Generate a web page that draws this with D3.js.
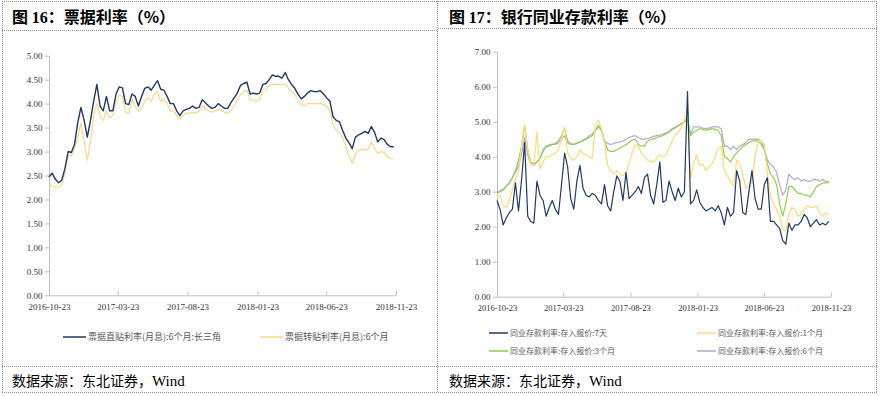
<!DOCTYPE html>
<html>
<head>
<meta charset="utf-8">
<script src="https://cdn.jsdelivr.net/npm/d3@7"></script>
<style>
  body { margin: 0; background: #fff; }
</style>
</head>
<body>
<div id="chart"></div>
<script>
var width = 880;
var height = 396;
var cjk = "'Noto Sans CJK SC', sans-serif";
var serif = "'Liberation Serif', 'Times New Roman', serif";

// weekly observations, first one on 2016-10-23
var startDate = '2016-10-23';
var xTicks = ['2016-10-23', '2017-03-23', '2017-08-23', '2018-01-23', '2018-06-23', '2018-11-23'];
var leftYTicks = [0, 0.5, 1, 1.5, 2, 2.5, 3, 3.5, 4, 4.5, 5];
var rightYTicks = [0, 1, 2, 3, 4, 5, 6, 7];

// 票据利率
var billDirect = [2.47,2.55,2.42,2.35,2.4,2.65,3.0,2.98,3.15,3.6,3.92,3.65,3.3,3.65,4.05,4.4,3.95,3.85,4.15,3.85,3.85,4.2,4.35,4.33,4.0,3.98,4.2,4.15,3.95,4.15,4.32,4.35,4.28,4.38,4.48,4.3,4.28,4.15,4.0,4.0,3.85,3.75,3.85,3.88,3.9,3.95,3.9,3.92,4.08,4.02,3.95,3.9,3.92,4.0,
  3.95,3.9,3.9,4.02,4.12,4.22,4.38,4.42,4.45,4.2,4.22,4.2,4.22,4.4,4.42,4.5,4.6,4.57,4.57,4.53,4.65,4.5,4.4,4.32,4.2,4.1,4.15,4.22,4.27,4.25,4.25,4.27,4.2,4.12,4.05,3.72,3.65,3.62,3.44,3.28,3.18,3.06,3.3,3.35,3.38,3.42,3.38,3.52,3.4,3.2,3.28,3.25,3.15,3.1,3.1];
var billRedisc = [2.32,2.28,2.25,2.25,2.3,2.55,2.9,2.92,3.05,3.3,3.6,3.2,2.82,3.2,3.75,4.0,3.75,3.65,3.85,3.7,3.75,4.05,4.18,4.15,3.82,3.8,4.1,3.95,3.85,3.9,4.05,4.12,4.05,4.2,4.25,4.05,4.1,4.0,3.85,3.85,3.75,3.68,3.75,3.8,3.8,3.82,3.8,3.85,3.95,3.9,3.85,3.82,3.85,3.88,
  3.85,3.82,3.8,3.85,3.95,4.08,4.18,4.25,4.28,4.08,4.08,4.05,4.08,4.28,4.3,4.38,4.4,4.4,4.4,4.4,4.42,4.32,4.25,4.2,4.08,3.98,3.95,4.0,4.0,4.0,4.0,4.0,3.98,3.95,3.85,3.55,3.45,3.4,3.3,3.1,2.9,2.75,2.95,3.02,3.05,3.02,3.05,3.2,3.08,2.95,3.0,2.98,2.9,2.85,2.85];

// 同业存款利率
var dep7d = [2.75,2.5,2.05,2.25,2.4,2.5,3.25,2.45,3.35,4.4,2.3,2.15,2.1,3.3,2.9,2.75,2.3,2.55,2.75,2.5,2.35,3.2,4.1,3.7,2.8,2.5,3.3,3.75,3.1,2.9,2.85,2.95,2.9,2.75,2.65,3.2,2.6,2.45,3.0,3.45,3.3,2.75,3.55,2.8,2.9,3.0,3.15,2.95,3.4,3.5,2.9,2.65,3.2,3.85,2.7,
  2.75,3.3,3.0,2.75,3.1,2.85,3.0,5.86,2.65,2.75,3.05,2.7,2.55,2.45,2.5,2.55,2.45,2.6,2.4,2.05,2.55,2.3,2.4,3.6,3.3,2.4,2.35,3.0,3.6,2.8,2.5,2.5,3.2,3.4,2.15,2.15,2.05,1.95,1.6,1.5,2.1,1.9,2.05,2.05,2.15,2.35,2.25,2.0,2.1,2.2,2.05,2.1,2.05,2.15];
var dep1m = [2.85,2.9,2.6,2.55,2.75,3.05,3.35,3.55,4.3,4.9,4.2,3.8,3.75,4.7,3.65,3.85,4.0,4.0,4.05,4.1,4.2,4.5,4.85,4.1,3.95,3.9,4.0,4.2,4.1,4.05,4.0,3.95,4.9,5.05,4.8,4.4,3.75,3.6,3.5,3.6,3.5,3.45,3.55,3.8,4.1,4.35,4.3,4.1,4.0,3.9,3.85,3.85,3.95,4.05,4.0,
  4.05,4.25,4.45,4.6,4.7,4.85,5.05,5.4,3.4,3.8,4.05,3.75,3.8,3.6,3.7,3.8,4.0,4.25,4.3,3.6,3.45,3.3,3.15,3.9,3.8,3.5,3.1,3.15,3.3,4.0,4.45,4.45,4.35,3.5,2.9,2.65,2.5,2.3,1.9,1.9,2.35,2.55,2.5,2.3,2.35,2.5,2.6,2.55,2.55,2.6,2.4,2.3,2.4,2.35];
var dep3m = [2.95,3.0,3.05,3.15,3.25,3.4,3.6,3.9,4.3,4.9,4.2,3.85,3.8,3.85,3.95,4.2,4.3,4.35,4.35,4.38,4.45,4.6,4.8,4.45,4.38,4.35,4.38,4.42,4.45,4.5,4.55,4.6,4.75,4.9,4.75,4.45,4.2,4.15,4.15,4.2,4.25,4.3,4.35,4.4,4.48,4.5,4.35,4.3,4.3,4.45,4.5,4.5,4.55,4.58,4.6,
  4.65,4.7,4.78,4.82,4.88,4.95,5.0,5.1,4.6,4.7,4.75,4.8,4.78,4.75,4.78,4.8,4.78,4.75,4.6,4.0,3.95,3.85,4.0,4.1,4.2,4.3,4.35,4.4,4.45,4.45,4.45,4.35,4.2,3.8,3.5,3.4,3.2,2.65,2.3,2.65,3.15,3.15,3.05,2.95,2.95,2.9,2.9,2.85,3.0,3.15,3.2,3.25,3.25,3.3];
var dep6m = [3.0,3.02,3.08,3.15,3.25,3.4,3.55,3.75,4.05,4.55,4.05,3.8,3.75,3.85,3.95,4.15,4.28,4.3,4.35,4.35,4.4,4.5,4.6,4.4,4.35,4.35,4.4,4.42,4.48,4.52,4.6,4.65,4.75,4.85,4.75,4.45,4.38,4.35,4.38,4.4,4.42,4.45,4.5,4.55,4.58,4.6,4.55,4.5,4.5,4.52,4.55,4.58,4.6,4.62,4.65,
  4.68,4.72,4.8,4.85,4.9,4.95,5.0,5.05,4.65,4.85,4.85,4.85,4.82,4.8,4.82,4.85,4.85,4.85,4.8,4.3,4.3,4.2,4.3,4.2,4.3,4.35,4.4,4.5,4.5,4.5,4.5,4.45,4.25,3.9,3.78,3.7,3.55,3.2,2.9,3.05,3.5,3.4,3.35,3.4,3.3,3.35,3.3,3.3,3.35,3.35,3.3,3.35,3.3,3.25];

var parseDate = d3.timeParse('%Y-%m-%d');
var formatTick = d3.timeFormat('%Y-%m-%d');
var start = parseDate(startDate);
function weekDate(i) { return d3.timeDay.offset(start, 7 * i); }

var canvas = d3.select('#chart')
  .append('svg')
  .attr('width', width)
  .attr('height', height)
  .style('background', '#fff');

// dotted frame
var frame = [
  [2, 1.5, 877, 1.5], [2, 392.5, 877, 392.5],
  [2.5, 1, 2.5, 393], [437.5, 1, 437.5, 393], [876.5, 1, 876.5, 393],
  [2, 30.5, 437, 30.5], [438, 28.5, 877, 28.5],
  [2, 366.5, 877, 366.5]
];
canvas.append('g').selectAll('line')
  .data(frame)
  .enter()
  .append('line')
  .attr('x1', function(d){ return d[0]; })
  .attr('y1', function(d){ return d[1]; })
  .attr('x2', function(d){ return d[2]; })
  .attr('y2', function(d){ return d[3]; })
  .attr('stroke', '#8c8c8c')
  .attr('stroke-width', 1)
  .attr('stroke-dasharray', '1,1');

// titles and sources
function title(x, num, rest){
  var t = canvas.append('text')
    .attr('x', x)
    .attr('y', 23)
    .style('font-family', cjk)
    .style('font-weight', 'bold')
    .style('font-size', '16px')
    .attr('fill', '#000');
  t.append('tspan').text('图 ');
  t.append('tspan').style('font-family', serif).text(num);
  t.append('tspan').text(rest);
}
title(12, '16', '：票据利率（%）');
title(449, '17', '：银行同业存款利率（%）');

function source(x){
  var t = canvas.append('text')
    .attr('x', x)
    .attr('y', 386)
    .style('font-family', cjk)
    .style('font-size', '14px')
    .attr('fill', '#000');
  t.append('tspan').text('数据来源：东北证券，');
  t.append('tspan').style('font-family', serif).style('font-size', '15px').text('Wind');
}
source(12);
source(449);

function styleAxis(g, size){
  g.select('.domain').attr('stroke', '#bfbfbf');
  g.selectAll('.tick line').attr('stroke', '#bfbfbf');
  g.selectAll('.tick text')
    .attr('fill', '#333')
    .style('font-family', serif)
    .style('font-size', size);
}

function drawPanel(opt){
  var x = d3.scaleTime()
    .domain([parseDate(xTicks[0]), parseDate(xTicks[xTicks.length - 1])])
    .range([opt.left, opt.right]);
  var y = d3.scaleLinear().domain([0, opt.yMax]).range([opt.bottom, opt.top]);

  var xAxis = d3.axisBottom(x)
    .tickValues(xTicks.map(parseDate))
    .tickFormat(formatTick)
    .tickSizeInner(-4)
    .tickSizeOuter(0)
    .tickPadding(8);
  var yAxis = d3.axisLeft(y)
    .tickValues(opt.yTicks)
    .tickFormat(d3.format('.2f'))
    .tickSizeInner(4)
    .tickSizeOuter(0)
    .tickPadding(2.5);

  canvas.append('g')
    .attr('transform', 'translate(0,' + opt.bottom + ')')
    .call(xAxis)
    .call(styleAxis, opt.xFont);
  canvas.append('g')
    .attr('transform', 'translate(' + opt.left + ',0)')
    .call(yAxis)
    .call(styleAxis, '9px');

  var line = d3.line()
    .x(function(d, i){ return x(weekDate(i)); })
    .y(function(d){ return y(d); });

  opt.series.forEach(function(s){
    canvas.append('path')
      .datum(s.values)
      .attr('fill', 'none')
      .attr('stroke', s.color)
      .attr('stroke-width', s.width)
      .attr('stroke-linejoin', 'round')
      .attr('d', line);
  });

  // legend
  var leg = canvas.append('g')
    .selectAll('g')
    .data(opt.legend)
    .enter()
    .append('g')
    .attr('transform', function(d){ return 'translate(' + d.x + ',' + d.y + ')'; });
  leg.append('line')
    .attr('x1', 0).attr('x2', opt.legLine)
    .attr('stroke', function(d){ return d.s.color; })
    .attr('stroke-width', 1.5);
  leg.append('text')
    .attr('x', opt.legLine + 2)
    .attr('dy', '0.35em')
    .text(function(d){ return d.s.name; })
    .attr('fill', '#595959')
    .style('font-family', cjk)
    .style('font-size', opt.legFont);
}

var sDirect = { name: '票据直贴利率(月息):6个月:长三角', values: billDirect, color: '#1f3864', width: 1.4 };
var sRedisc = { name: '票据转贴利率(月息):6个月', values: billRedisc, color: '#f8d98a', width: 1.2 };

drawPanel({
  left: 49, right: 396, top: 55.7, bottom: 295.3, yMax: 5,
  yTicks: leftYTicks, xFont: '9px',
  series: [sRedisc, sDirect],
  legLine: 23, legFont: '9px',
  legend: [ { s: sDirect, x: 63, y: 337 }, { s: sRedisc, x: 260, y: 337 } ]
});

var s7d = { name: '同业存款利率:存入报价:7天', values: dep7d, color: '#1f3864', width: 1.2 };
var s1m = { name: '同业存款利率:存入报价:1个月', values: dep1m, color: '#ffd97a', width: 1.2 };
var s3m = { name: '同业存款利率:存入报价:3个月', values: dep3m, color: '#8fd14f', width: 1.2 };
var s6m = { name: '同业存款利率:存入报价:6个月', values: dep6m, color: '#b4a7d6', width: 1.2 };

drawPanel({
  left: 497, right: 831, top: 51.7, bottom: 296.7, yMax: 7,
  yTicks: rightYTicks, xFont: '8.5px',
  series: [s6m, s3m, s1m, s7d],
  legLine: 19, legFont: '8px',
  legend: [
    { s: s7d, x: 489, y: 333 }, { s: s1m, x: 697, y: 333 },
    { s: s3m, x: 489, y: 351 }, { s: s6m, x: 697, y: 351 }
  ]
});
</script>
</body>
</html>
